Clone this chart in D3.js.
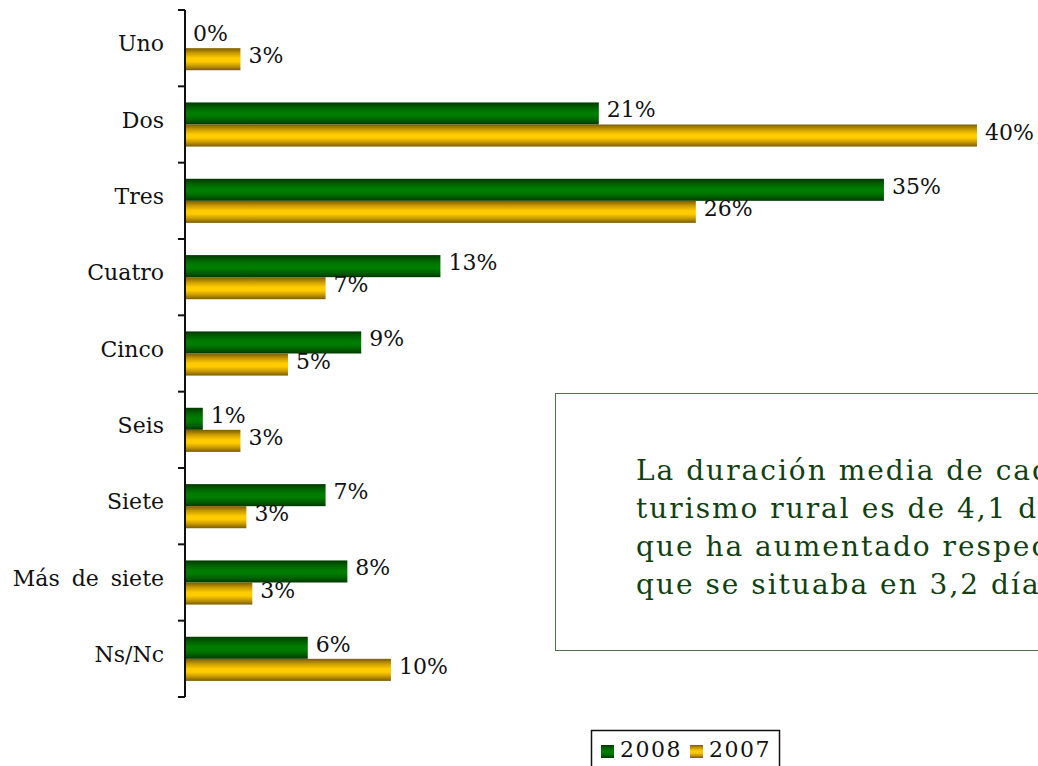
<!DOCTYPE html>
<html>
<head>
<meta charset="utf-8">
<script src="https://cdn.jsdelivr.net/npm/d3@7"></script>
<style>
  html, body { margin: 0; padding: 0; background: #fff; overflow: hidden; }
  svg { display: block; font-family: "DejaVu Serif", serif; }
</style>
</head>
<body>
<div id="chart"></div>
<script>
const categories = ['Uno', 'Dos', 'Tres', 'Cuatro', 'Cinco', 'Seis', 'Siete', 'Más de siete', 'Ns/Nc'];
const series = ['2008', '2007'];
const values2008 = [0.0, 20.9, 35.3, 12.9, 8.9, 0.9, 7.1, 8.2, 6.2];
const values2007 = [2.8, 40.0, 25.8, 7.1, 5.2, 2.8, 3.1, 3.4, 10.4];
const noteLines = [
  'La duración media de cada viaje de',
  'turismo rural es de 4,1 días, cifra',
  'que ha aumentado respecto a 2007, en',
  'que se situaba en 3,2 días.'
];

const W = 1038, H = 766;
const margin = { top: 10, left: 185, bottom: 69 };

const svg = d3.select('#chart').append('svg')
  .attr('width', W).attr('height', H);

// ── Gradients (tubular look) ──
const defs = svg.append('defs');
function tube(id, dark, mid, light) {
  const g = defs.append('linearGradient').attr('id', id)
    .attr('x1', 0).attr('y1', 0).attr('x2', 0).attr('y2', 1);
  [[0, dark], [0.22, mid], [0.45, light], [0.6, light], [0.8, mid], [1, dark]]
    .forEach(([o, c]) => g.append('stop').attr('offset', o).attr('stop-color', c));
}
tube('g2008', '#003800', '#006000', '#007c00');
tube('g2007', '#7a5c00', '#c89a00', '#ffcc00');
const fills = { '2008': 'url(#g2008)', '2007': 'url(#g2007)' };

const rows = categories.map((c, i) => ({ cat: c, '2008': values2008[i], '2007': values2007[i] }));

const x = d3.scaleLinear().domain([0, 40]).range([margin.left, 977]);
const y = d3.scaleBand().domain(categories).range([margin.top, H - margin.bottom]).padding(0);
const y1 = d3.scaleBand().domain(series).range([0, y.bandwidth()])
  .paddingInner(0).paddingOuter(0.73);

// ── Bars ──
const groups = svg.selectAll('.grp').data(rows).enter().append('g')
  .attr('transform', d => `translate(0,${y(d.cat)})`);

groups.selectAll('rect')
  .data(d => series.map(s => ({ s, v: d[s] })))
  .enter().append('rect')
  .attr('x', x(0))
  .attr('y', d => y1(d.s))
  .attr('width', d => x(d.v) - x(0))
  .attr('height', y1.bandwidth())
  .attr('fill', d => fills[d.s]);

groups.selectAll('.val')
  .data(d => series.map(s => ({ s, v: d[s] })))
  .enter().append('text')
  .attr('x', d => x(d.v) + 8)
  .attr('y', d => y1(d.s) + y1.bandwidth() / 2 - 2)
  .attr('dominant-baseline', 'middle')
  .style('font-size', '22px')
  .attr('fill', '#111')
  .text(d => Math.round(d.v) + '%');

// ── Axis ──
const axis = svg.append('g').attr('transform', `translate(${x(0)},0)`);
axis.append('line')
  .attr('y1', y.range()[0]).attr('y2', y.range()[1])
  .attr('stroke', '#111').attr('stroke-width', 2);
const tickPos = categories.map(c => y(c)).concat([y.range()[1]]);
axis.selectAll('.tk').data(tickPos).enter().append('line')
  .attr('x1', -7).attr('x2', 0)
  .attr('y1', d => d).attr('y2', d => d)
  .attr('stroke', '#111').attr('stroke-width', 2);
axis.selectAll('.lbl').data(categories).enter().append('text')
  .attr('x', -21)
  .attr('y', d => y(d) + y.bandwidth() / 2 - 3)
  .attr('text-anchor', 'end')
  .attr('dominant-baseline', 'middle')
  .style('font-size', '22px')
  .style('word-spacing', '5px')
  .attr('fill', '#111')
  .text(d => d);

// ── Note box ──
svg.append('rect')
  .attr('x', 555.5).attr('y', 393.5).attr('width', 520).attr('height', 257)
  .attr('fill', '#fff').attr('stroke', '#4f6f4f').attr('stroke-width', 1);
svg.append('text')
  .attr('x', 636).attr('y', 480)
  .style('font-size', '28px')
  .style('letter-spacing', '2px')
  .attr('fill', '#123f12')
  .selectAll('tspan').data(noteLines).enter().append('tspan')
  .attr('x', 636).attr('dy', (d, i) => i === 0 ? 0 : 38)
  .text(d => d);

// ── Legend ──
const leg = svg.append('g').attr('transform', 'translate(591,730)');
leg.append('rect').attr('x', 0.5).attr('y', 0.5).attr('width', 188).attr('height', 50)
  .attr('fill', '#fff').attr('stroke', '#111').attr('stroke-width', 1.5);
const legX = { '2008': 10, '2007': 99 };
series.forEach(s => {
  leg.append('rect').attr('x', legX[s]).attr('y', 15).attr('width', 13).attr('height', 13)
    .attr('fill', fills[s]);
  leg.append('text').attr('x', legX[s] + 19).attr('y', 21)
    .attr('dominant-baseline', 'middle')
    .style('font-size', '22px').style('letter-spacing', '1.5px').attr('fill', '#111')
    .text(s);
});
</script>
</body>
</html>
